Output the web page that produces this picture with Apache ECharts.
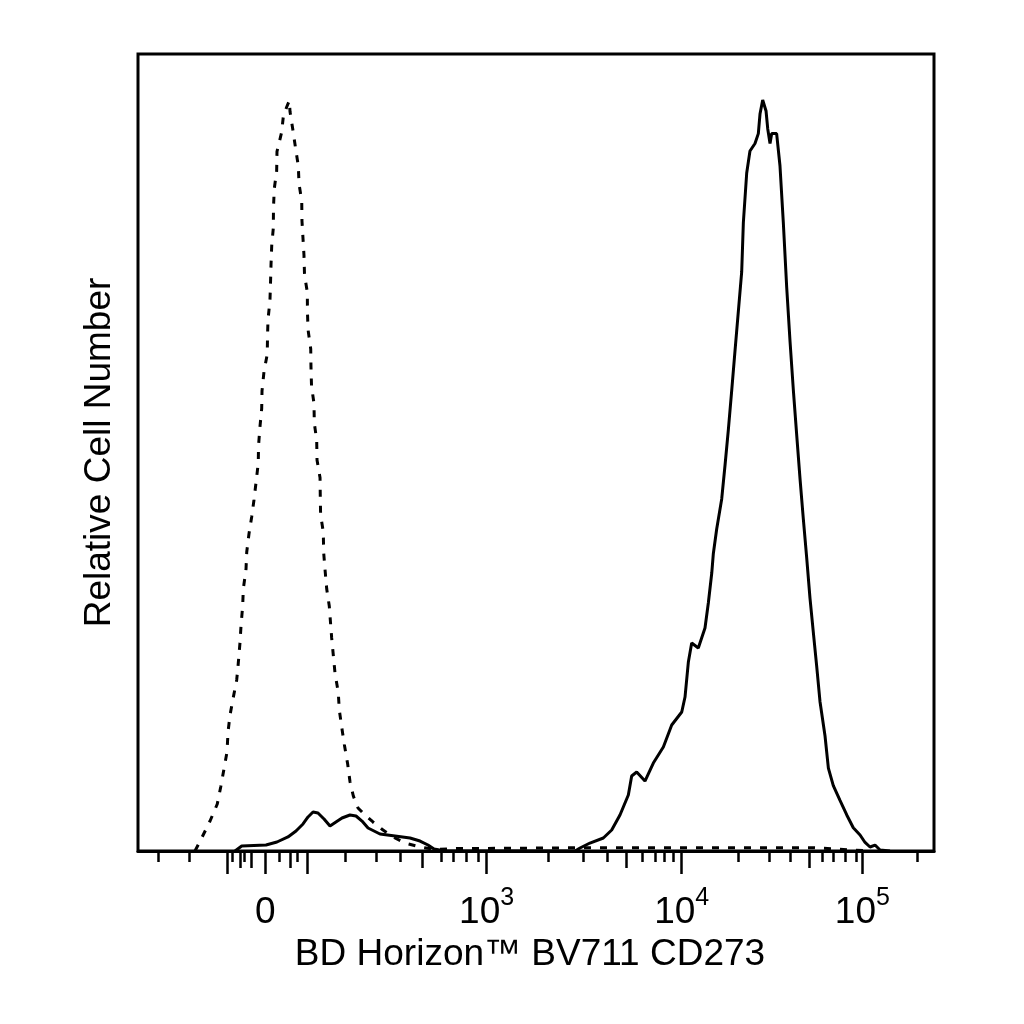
<!DOCTYPE html>
<html>
<head>
<meta charset="utf-8">
<script src="https://cdn.jsdelivr.net/npm/echarts@6/dist/echarts.min.js"></script>
<style>html,body{margin:0;padding:0;background:#fff}#c{width:1024px;height:1024px}</style>
</head>
<body>
<div id="c"></div>
<script>
// x values are on the biexponential display scale (0–1000 display channels)
const isotypeX = [71.6, 80.0, 90.5, 99.6, 103.9, 108.0, 111.8, 113.1, 115.6, 119.7, 124.0, 126.0, 128.1, 129.4, 131.5, 132.3, 135.7, 136.6, 139.4, 142.8, 145.7, 148.2, 151.1, 151.4, 153.3, 155.4, 155.8, 158.3, 162.4, 162.7, 163.3, 165.8, 166.5, 167.1, 168.0, 170.0, 170.2, 171.2, 174.2, 174.6, 178.4, 180.5, 182.5, 186.8, 190.1, 191.0, 194.4, 198.1, 201.4, 202.3, 205.7, 206.0, 208.5, 209.2, 212.7, 212.9, 213.6, 217.0, 217.3, 218.0, 221.1, 221.5, 224.5, 224.9, 228.7, 229.0, 229.4, 232.8, 233.2, 234.9, 237.1, 240.3, 243.3, 245.4, 247.5, 251.6, 252.9, 255.9, 259.2, 263.4, 266.3, 270.5, 276.4, 285.2, 295.2, 307.8, 320.4, 335.4, 354.3, 373.1, 400, 550, 700, 850, 920];
const isotypeY = [0, 1.63, 3.76, 5.90, 8.03, 10.29, 12.42, 14.93, 17.06, 19.26, 21.46, 23.59, 26.10, 28.23, 30.74, 32.87, 35.38, 37.52, 39.77, 41.91, 44.04, 46.17, 48.68, 50.82, 53.32, 55.52, 57.72, 60.16, 62.36, 64.49, 66.62, 69.13, 71.33, 73.53, 75.97, 78.17, 80.68, 83.10, 85.32, 87.75, 89.33, 90.21, 92.10, 93.35, 94.14, 92.75, 90.59, 88.08, 85.95, 83.69, 81.55, 79.05, 74.78, 72.27, 70.14, 67.63, 65.43, 62.99, 60.79, 58.34, 56.13, 53.70, 51.49, 49.06, 46.84, 44.37, 42.18, 40.03, 37.52, 35.38, 32.87, 30.74, 26.73, 24.53, 22.33, 19.87, 17.69, 15.56, 13.36, 10.92, 8.72, 6.90, 5.40, 4.52, 3.64, 2.63, 1.76, 1.00, 0.50, 0.19, 0.3, 0.4, 0.4, 0.4, 0];

const stainedX = [121.9, 130.3, 160.8, 174.6, 188.4, 198.5, 207.3, 213.6, 219.9, 226.1, 233.7, 241.2, 248.7, 256.3, 266.3, 273.9, 281.4, 289.0, 304.0, 322.9, 341.7, 354.3, 364.3, 371.9, 385.7, 549.0, 555.3, 567.8, 584.6, 595.1, 605.5, 616.0, 620.2, 626.5, 636.9, 647.4, 660.0, 670.5, 683.1, 687.2, 691.4, 695.6, 703.9, 712.3, 716.5, 720.8, 722.8, 727.0, 733.3, 737.5, 741.6, 745.9, 750.0, 754.2, 758.4, 760.5, 764.7, 768.8, 775.1, 779.3, 781.4, 784.8, 789.0, 791.1, 794.0, 796.1, 802.3, 806.5, 810.7, 814.9, 819.1, 823.3, 827.5, 831.7, 835.8, 840.1, 844.2, 848.4, 852.7, 856.8, 863.1, 867.3, 873.5, 881.9, 890.4, 898.6, 907.1, 913.4, 919.6, 925.9, 932.2, 944.7];
const stainedY = [0, 0.63, 0.75, 1.13, 1.76, 2.51, 3.39, 4.27, 4.89, 4.77, 4.02, 3.14, 3.64, 4.14, 4.52, 4.39, 3.76, 2.89, 2.13, 1.88, 1.63, 1.25, 0.75, 0.25, 0, 0, 0.38, 1.00, 1.63, 2.63, 4.52, 7.03, 9.41, 9.91, 8.78, 11.04, 13.05, 15.81, 17.44, 19.32, 23.71, 26.10, 25.47, 27.98, 31.12, 34.88, 37.33, 40.40, 44.17, 48.43, 52.82, 57.84, 62.74, 67.70, 72.65, 78.86, 85.07, 87.83, 88.77, 90.01, 92.47, 94.23, 92.85, 90.63, 88.77, 90.01, 90.01, 85.98, 78.86, 70.80, 63.99, 57.84, 52.20, 46.68, 41.71, 36.76, 31.74, 27.42, 23.09, 18.73, 14.43, 10.41, 8.21, 6.34, 4.52, 2.92, 2.01, 1.07, 0.50, 0.75, 0.13, 0];

// tick positions on the display scale
const majorTicks = [112, 160, 213, 438, 683, 910];
const midTicks = [128, 142, 191, 357, 613, 843];
const minorTicks = [25, 65, 119, 134, 178, 200, 260, 299, 329, 381, 396, 412, 427, 516, 559, 590, 633, 650, 661, 672, 754, 793, 819, 859, 874, 889, 902, 979];
const labelTicks = [160, 438, 683, 910];
const tickLabels = ['0', '10^3', '10^4', '10^5'];

const FONT = 'Liberation Sans, Arial, sans-serif';
const zip = (xs, ys) => xs.map((x, i) => [x, ys[i]]);

const chart = echarts.init(document.getElementById('c'));
const baseAxis = { type: 'value', min: 0, max: 1000, position: 'bottom', gridIndex: 0, splitLine: { show: false } };
chart.setOption({
  animation: false,
  backgroundColor: '#fff',
  grid: { left: 138, right: 90, top: 54, bottom: 173, show: true, borderColor: '#000', borderWidth: 3, containLabel: false },
  xAxis: [
    Object.assign({}, baseAxis, {
      axisLine: { show: true, onZero: false, lineStyle: { color: '#000', width: 3 } },
      axisTick: { show: true, length: 23, customValues: majorTicks, lineStyle: { color: '#000', width: 2.5 } },
      axisLabel: {
        show: true, customValues: labelTicks, margin: 35, color: '#000', fontFamily: FONT, fontSize: 37,
        formatter: function (v) {
          let idx = 0, best = Infinity;
          labelTicks.forEach((t, i) => { if (Math.abs(t - v) < best) { best = Math.abs(t - v); idx = i; } });
          const parts = tickLabels[idx].split('^');
          return parts.length > 1 ? '{b|' + parts[0] + '}{s|' + parts[1] + '}' : '{b|' + parts[0] + '}';
        },
        rich: {
          b: { fontSize: 37, lineHeight: 53, fontFamily: FONT, color: '#000' },
          s: { fontSize: 25, lineHeight: 25, verticalAlign: 'top', fontFamily: FONT, color: '#000' }
        }
      },
      name: 'BD Horizon™ BV711 CD273',
      nameLocation: 'middle',
      nameGap: 82,
      nameTextStyle: { color: '#000', fontFamily: FONT, fontSize: 37, padding: [0, 12, 0, 0] }
    }),
    Object.assign({}, baseAxis, {
      axisLine: { show: false },
      axisTick: { show: true, length: 17, customValues: midTicks, lineStyle: { color: '#000', width: 2.5 } },
      axisLabel: { show: false }
    }),
    Object.assign({}, baseAxis, {
      axisLine: { show: false },
      axisTick: { show: true, length: 11, customValues: minorTicks, lineStyle: { color: '#000', width: 2.5 } },
      axisLabel: { show: false }
    })
  ],
  yAxis: {
    type: 'value', min: 0, max: 100,
    axisLine: { show: false }, axisTick: { show: false }, axisLabel: { show: false }, splitLine: { show: false },
    name: 'Relative Cell Number', nameLocation: 'middle', nameGap: 20,
    nameTextStyle: { color: '#000', fontFamily: FONT, fontSize: 37 }
  },
  series: [
    {
      name: 'Isotype control', type: 'line', xAxisIndex: 0, yAxisIndex: 0,
      data: zip(isotypeX, isotypeY), symbol: 'none', showSymbol: false, silent: true, z: 3,
      lineStyle: { color: '#000', width: 3, type: [7, 9] }
    },
    {
      name: 'CD273', type: 'line', xAxisIndex: 0, yAxisIndex: 0,
      data: zip(stainedX, stainedY), symbol: 'none', showSymbol: false, silent: true, z: 4,
      lineStyle: { color: '#000', width: 3 }
    }
  ]
});
</script>
</body>
</html>
